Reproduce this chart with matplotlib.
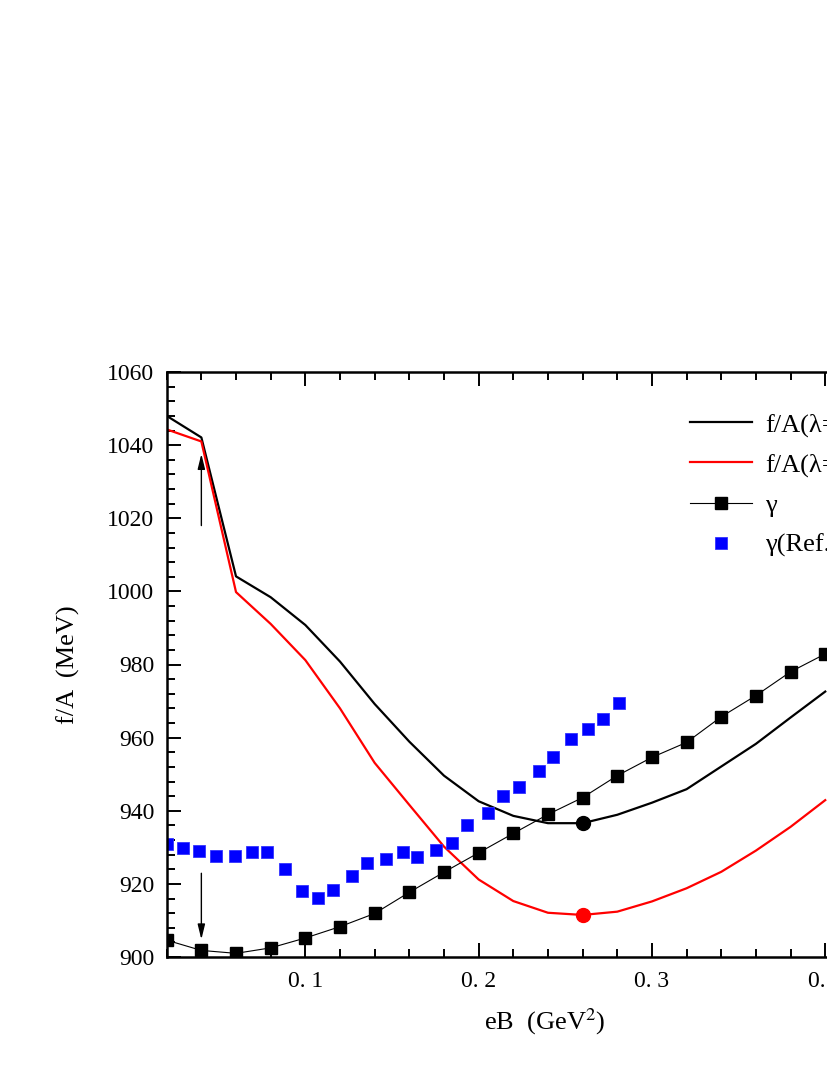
import numpy as np
import matplotlib
matplotlib.use("Agg")
import matplotlib.pyplot as plt
from matplotlib.ticker import MultipleLocator, FuncFormatter

plt.rcParams['font.family'] = ['Liberation Serif', 'DejaVu Serif']
plt.rcParams['mathtext.fontset'] = 'stix'

# f/A curves (MeV) vs eB (GeV^2)
eb = [0.02, 0.04, 0.06, 0.08, 0.10, 0.12, 0.14, 0.16, 0.18, 0.20,
      0.22, 0.24, 0.26, 0.28, 0.30, 0.32, 0.34, 0.36, 0.38, 0.40]
fa_black = [1048.0, 1042.1, 1004.1, 998.4, 990.8, 980.8, 969.2, 958.9, 949.6, 942.6,
            938.6, 936.6, 936.6, 938.9, 942.2, 945.9, 952.1, 958.3, 965.5, 972.6]
fa_red = [1044.3, 1041.0, 999.8, 991.1, 981.2, 968.0, 953.1, 941.6, 930.2, 921.2,
          915.3, 912.1, 911.5, 912.4, 915.2, 918.8, 923.3, 929.1, 935.6, 942.9]

# gamma (this work)
gamma = [904.6, 901.8, 901.0, 902.5, 905.2, 908.3, 911.9, 917.7, 923.2, 928.5,
         933.8, 939.0, 943.6, 949.6, 954.6, 958.7, 965.7, 971.5, 978.0, 982.9]

# gamma from reference
eb_ref = [0.020, 0.0296, 0.0388, 0.0484, 0.0594, 0.0694, 0.0781, 0.0883, 0.0979,
          0.1071, 0.1161, 0.1268, 0.1358, 0.1465, 0.1565, 0.1646, 0.1754, 0.1845,
          0.1935, 0.2052, 0.2142, 0.2233, 0.2348, 0.2431, 0.2531, 0.2629, 0.2719,
          0.2810]
gamma_ref = [930.9, 929.9, 929.1, 927.6, 927.6, 928.6, 928.6, 924.1, 918.1,
             916.2, 918.3, 922.2, 925.6, 926.8, 928.6, 927.3, 929.2, 931.3,
             936.2, 939.3, 944.1, 946.4, 950.9, 954.6, 959.6, 962.3, 965.0,
             969.4]

# minima
eb_min = 0.26
fa_black_min = 936.6
fa_red_min = 911.5

fig = plt.figure(figsize=(8.28, 10.72), dpi=100)
W, H = 828, 1072
left, bottom, top = 166.7, 957, 372
xmin, xmax = 0.02, 0.46
width_px = (xmax - xmin) * 1733
ax = fig.add_axes([left / W, (H - bottom) / H, width_px / W, (bottom - top) / H])

ax.plot(eb, fa_black, color='black', lw=1.6, label='f/A(λ=0)')
ax.plot(eb, fa_red, color='red', lw=1.6, label='f/A(λ=1)')
ax.plot(eb, gamma, color='black', lw=0.8, marker='s', ms=9,
        markeredgecolor='black', label='γ')
ax.plot(eb_ref, gamma_ref, ls='none', marker='s', ms=8.8, color='blue',
        markeredgecolor='#3333ff', markeredgewidth=0.6, label='γ(Ref.)')
ax.plot([eb_min], [fa_black_min], 'o', color='black', ms=10, zorder=5)
ax.plot([eb_min], [fa_red_min], 'o', color='red', ms=10, zorder=5)

arrow = dict(arrowstyle='-|>,head_length=0.9,head_width=0.22', color='black', lw=1.0,
             shrinkA=0, shrinkB=0)
ax.annotate('', xy=(0.04, 1037.6), xytext=(0.04, 1018.0), arrowprops=arrow)
ax.annotate('', xy=(0.04, 904.8), xytext=(0.04, 922.9), arrowprops=arrow)

ax.set_xlim(xmin, xmax)
ax.set_ylim(900, 1060)
ax.xaxis.set_major_locator(MultipleLocator(0.1))
ax.xaxis.set_minor_locator(MultipleLocator(0.02))
ax.yaxis.set_major_locator(MultipleLocator(20))
ax.yaxis.set_minor_locator(MultipleLocator(4))
ax.xaxis.set_major_formatter(FuncFormatter(lambda v, p: ('%.1f' % v).replace('.', '. ')))
ax.yaxis.set_major_formatter(FuncFormatter(lambda v, p: '%d' % v))

ax.tick_params(which='both', direction='in', top=True, right=True, width=1.4)
ax.tick_params(which='major', length=10, labelsize=17)
ax.tick_params(which='minor', length=5.5)
ax.tick_params(axis='y', pad=9)
ax.tick_params(axis='x', pad=10)
for s in ax.spines.values():
    s.set_linewidth(1.8)

ax.set_xlabel('eB  (GeV$^2$)', fontsize=19)
ax.set_ylabel('f/A  (MeV)', fontsize=19)
ax.xaxis.set_label_coords((545 - left) / width_px, -0.085)
ax.yaxis.set_label_coords(-(left - 80) / width_px, 0.5)

ax.legend(loc='upper left', bbox_to_anchor=((690 - left) / width_px, (bottom - 413) / (bottom - top)),
          frameon=False, fontsize=19, handlelength=2.35, handletextpad=0.5,
          labelspacing=0.62, borderpad=0, borderaxespad=0)

fig.savefig('out.png', dpi=100)
